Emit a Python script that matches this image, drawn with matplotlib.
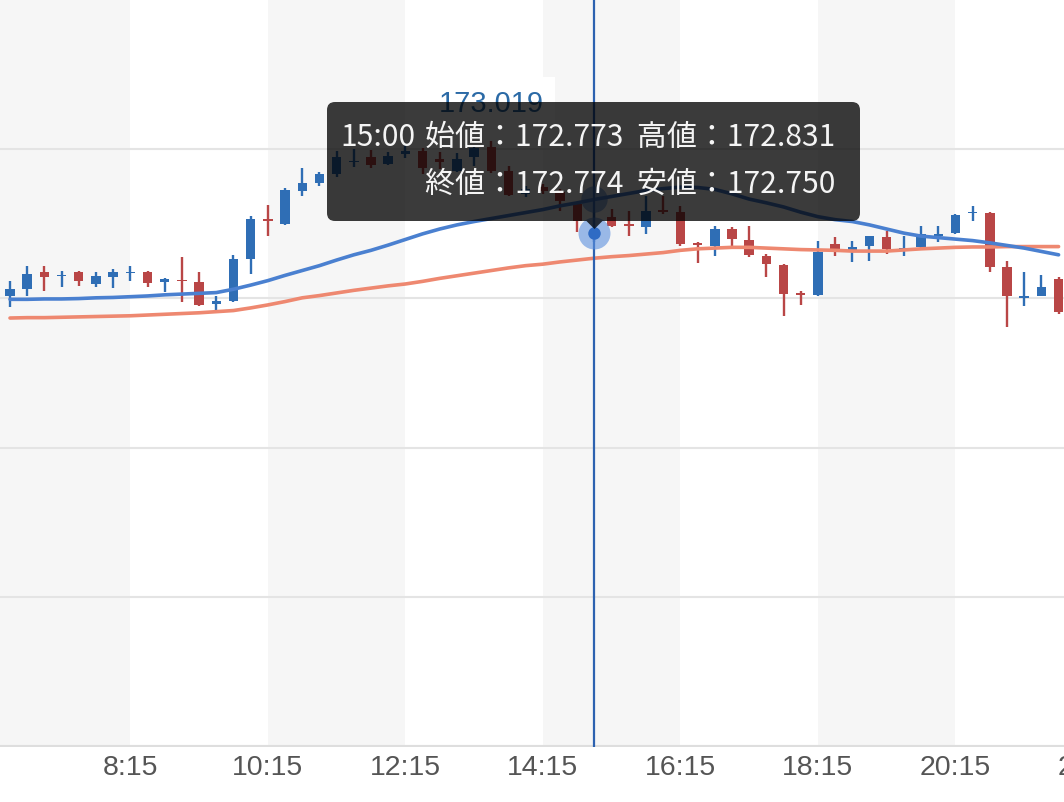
import matplotlib
matplotlib.use("Agg")
import matplotlib.pyplot as plt
from matplotlib.patches import FancyBboxPatch, Polygon
from matplotlib.transforms import blended_transform_factory
import pandas as pd

# 15-minute candles, 6:30 .. 21:45
times = pd.date_range("2024-01-01 06:30", periods=62, freq="15min").strftime("%-H:%M").tolist()

opens = [172.607, 172.625, 172.669, 172.659, 172.669, 172.638, 172.656, 172.667, 172.669, 172.643,
         172.649, 172.644, 172.584, 172.593, 172.705, 172.812, 172.798, 172.887, 172.908, 172.932,
         172.963, 172.977, 172.959, 172.986, 172.994, 172.972, 172.940, 172.977, 173.003, 172.941,
         172.879, 172.897, 172.883, 172.852, 172.773, 172.816, 172.798, 172.790, 172.836, 172.830,
         172.748, 172.740, 172.785, 172.756, 172.714, 172.689, 172.613, 172.609, 172.745, 172.723,
         172.740, 172.763, 172.729, 172.736, 172.767, 172.774, 172.827, 172.828, 172.683, 172.601,
         172.605, 172.651]
highs = [172.647, 172.687, 172.687, 172.674, 172.674, 172.669, 172.678, 172.687, 172.672, 172.653,
         172.711, 172.671, 172.607, 172.716, 172.819, 172.849, 172.894, 172.947, 172.938, 172.994,
         172.999, 172.997, 172.992, 173.010, 173.001, 172.990, 172.988, 173.008, 173.019, 172.954,
         172.901, 172.905, 172.892, 172.856, 172.831, 172.839, 172.834, 172.874, 172.874, 172.847,
         172.750, 172.794, 172.790, 172.794, 172.718, 172.691, 172.620, 172.754, 172.763, 172.754,
         172.767, 172.781, 172.767, 172.794, 172.794, 172.825, 172.846, 172.830, 172.700, 172.669,
         172.662, 172.656]
lows = [172.576, 172.607, 172.620, 172.629, 172.632, 172.629, 172.626, 172.647, 172.629, 172.617,
        172.591, 172.578, 172.569, 172.591, 172.665, 172.767, 172.796, 172.874, 172.901, 172.923,
        172.950, 172.947, 172.956, 172.974, 172.932, 172.945, 172.937, 172.953, 172.935, 172.874,
        172.870, 172.879, 172.834, 172.776, 172.750, 172.790, 172.767, 172.772, 172.825, 172.740,
        172.694, 172.714, 172.740, 172.709, 172.656, 172.553, 172.582, 172.607, 172.714, 172.696,
        172.700, 172.718, 172.712, 172.732, 172.751, 172.772, 172.807, 172.669, 172.522, 172.580,
        172.605, 172.558]
closes = [172.625, 172.665, 172.656, 172.663, 172.647, 172.659, 172.671, 172.671, 172.641, 172.651,
          172.646, 172.582, 172.593, 172.705, 172.812, 172.806, 172.890, 172.908, 172.932, 172.977,
          172.966, 172.956, 172.981, 172.994, 172.947, 172.964, 172.972, 173.001, 172.940, 172.877,
          172.892, 172.887, 172.861, 172.807, 172.774, 172.794, 172.793, 172.834, 172.830, 172.745,
          172.742, 172.785, 172.758, 172.716, 172.691, 172.611, 172.609, 172.723, 172.732, 172.736,
          172.766, 172.732, 172.734, 172.772, 172.772, 172.822, 172.830, 172.683, 172.607, 172.606,
          172.629, 172.562]

ma_short = [172.597, 172.597, 172.598, 172.598, 172.599, 172.601, 172.602, 172.604, 172.606, 172.609,
            172.611, 172.613, 172.615, 172.624, 172.635, 172.647, 172.661, 172.674, 172.687, 172.702,
            172.716, 172.728, 172.742, 172.757, 172.772, 172.785, 172.796, 172.805, 172.813, 172.821,
            172.829, 172.837, 172.847, 172.855, 172.864, 172.872, 172.880, 172.888, 172.893, 172.897,
            172.896, 172.891, 172.879, 172.865, 172.855, 172.844, 172.830, 172.818, 172.810, 172.805,
            172.796, 172.785, 172.774, 172.766, 172.762, 172.758, 172.754, 172.748, 172.741, 172.734,
            172.725, 172.716]
ma_long = [172.547, 172.548, 172.548, 172.549, 172.550, 172.551, 172.552, 172.553, 172.555, 172.557,
           172.559, 172.561, 172.564, 172.567, 172.574, 172.582, 172.591, 172.601, 172.607, 172.614,
           172.621, 172.627, 172.633, 172.638, 172.645, 172.653, 172.660, 172.667, 172.674, 172.681,
           172.687, 172.691, 172.697, 172.702, 172.707, 172.711, 172.714, 172.718, 172.722, 172.728,
           172.732, 172.734, 172.736, 172.736, 172.734, 172.732, 172.730, 172.729, 172.728, 172.726,
           172.726, 172.726, 172.729, 172.732, 172.734, 172.736, 172.737, 172.737, 172.738, 172.738,
           172.738, 172.738]

tick_labels = ["8:15", "10:15", "12:15", "14:15", "16:15", "18:15", "20:15", "22:15"]
grid_prices = [171.8, 172.2, 172.6, 173.0]
selected = "15:00"

UP = "#2f6eb5"
DOWN = "#b94646"

W, H = 1064, 803
fig = plt.figure(figsize=(W / 100, H / 100), dpi=100)
ax = fig.add_axes([0, 55 / H, 1, 748 / H])
ax.set_xlim(-0.582, 61.315)
ax.set_ylim(171.4, 173.4)
ax.axis("off")

def idx(t):
    h, m = map(int, t.split(":"))
    h0, m0 = map(int, times[0].split(":"))
    return ((h * 60 + m) - (h0 * 60 + m0)) / 15

tick_pos = [idx(t) for t in tick_labels]

# alternating time bands
edges = [-5] + tick_pos
for i in range(0, len(edges) - 1, 2):
    ax.axvspan(edges[i], edges[i + 1], color="#f6f6f6", lw=0, zorder=0)

for p in grid_prices:
    ax.axhline(p, color="#e4e4e4", lw=1.5, zorder=1)
ax.axhline(171.4, color="#dedede", lw=3, zorder=1)

xs = list(range(len(times)))
for i in xs:
    o, h, l, c = opens[i], highs[i], lows[i], closes[i]
    col = UP if c >= o else DOWN
    ax.vlines(i, l, h, color=col, lw=1.7, zorder=3)
    ax.bar(i, max(abs(c - o), 0.004), bottom=min(o, c), width=0.55, color=col, lw=0, zorder=3)

ax.plot(xs, ma_long, color="#ee8870", lw=2.6, zorder=4, solid_capstyle="round")
ax.plot(xs, ma_short, color="#4a80d0", lw=2.6, zorder=4, solid_capstyle="round")

# highest price label
hi = max(highs)
hi_i = highs.index(hi)
ax.annotate(f"{hi:.3f}", xy=(hi_i, hi), xytext=(0, 28), textcoords="offset points",
            ha="center", va="center", fontsize=21, color="#2b6aa6", family="Liberation Sans",
            bbox=dict(boxstyle="square,pad=0.4", fc="white", ec="none"), zorder=8)

# x labels
tr = blended_transform_factory(ax.transData, ax.transAxes)
for t, p in zip(tick_labels, tick_pos):
    ax.text(p, -0.027, t, transform=tr, ha="center", va="center", fontsize=20.5,
            color="#555555", family="Liberation Sans", clip_on=False)

# crosshair
si = times.index(selected)
ax.axvline(si, color="#2d62b0", lw=1.6, zorder=5)
ax.plot(si, ma_short[si], "o", ms=19, color="#4a80d0", alpha=0.55, mec="none", zorder=6)
ax.plot(si, closes[si], "o", ms=23, color="#5b8fde", alpha=0.6, mec="none", zorder=6)
ax.plot(si, closes[si], "o", ms=9, color="#2f6bc4", mec="none", zorder=6)

# tooltip (display pixels)
cx = ax.transData.transform((si, 0))[0]
box = FancyBboxPatch((327, H - 222), 533, 119, boxstyle="round,pad=0,rounding_size=8",
                     transform=None, fc="black", ec="none", alpha=0.77, zorder=10)
fig.patches.append(box)
tip = Polygon([(cx - 8, H - 222), (cx + 8, H - 222), (cx, H - 230)], closed=True,
              transform=None, fc="black", ec="none", alpha=0.77, zorder=10)
fig.patches.append(tip)

o, h, l, c = opens[si], highs[si], lows[si], closes[si]
font = ["Noto Sans CJK JP", "DejaVu Sans"]
tip_style = dict(transform=None, va="baseline", fontsize=21.6, color="#f4f4f4", family=font, zorder=11)
fig.text(340, H - 146, selected, ha="left", **tip_style)
fig.text(835, H - 146, f"始値：{o:.3f}  高値：{h:.3f}", ha="right", **tip_style)
fig.text(835, H - 193, f"終値：{c:.3f}  安値：{l:.3f}", ha="right", **tip_style)

fig.savefig("out.png", dpi=100)
